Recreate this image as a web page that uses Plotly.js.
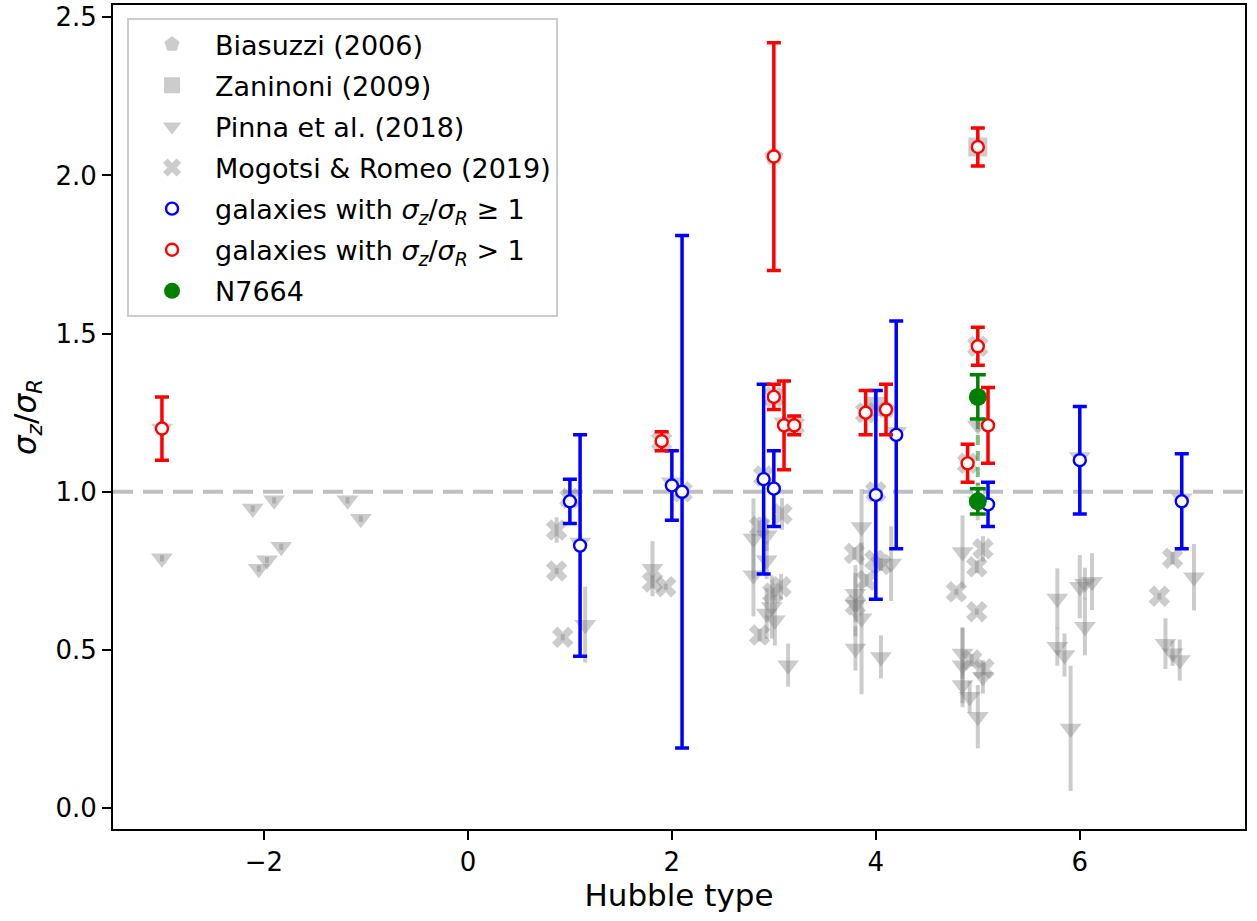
<!DOCTYPE html>
<html>
<head>
<meta charset="utf-8">
<script src="https://cdn.plot.ly/plotly-3.0.1.min.js"></script>
<style>html,body{margin:0;padding:0;background:#fff;}#chart{width:1257px;height:921px;}</style>
</head>
<body>
<div id="chart"></div>
<script>
// ---- Data ----
// Biasuzzi (2006)
const biaX = [3.0, 4.1];
const biaY = [2.06, 1.26];
const biaE = [0.02, 0.02];
// Zaninoni (2009)
const zanX = [5.0, 4.0];
const zanY = [2.09, 1.27];
const zanE = [0.02, 0.05];
// Pinna et al. (2018)
const pinX = [-3, -3, -2.11, -1.90, -1.83, -1.97, -2.05, -1.18, -1.05, 1.1, 1.15, 1.81, 2.0, 2.8, 2.8, 2.93, 2.93, 2.93, 3.01, 2.98, 3.14, 3.1, 3.86, 3.86, 3.80, 3.80, 3.80, 4.15, 4.05, 4.2, 4.85, 4.85, 4.85, 4.85, 5.05, 4.92, 5.0, 5.0, 5.0, 5.78, 5.78, 5.85, 5.91, 6.0, 6.05, 6.12, 6.05, 6.0, 6.84, 6.91, 6.98, 7.12, 7.0];
const pinY = [1.20, 0.79, 0.947, 0.973, 0.826, 0.784, 0.757, 0.973, 0.915, 0.84, 0.58, 0.757, 1.03, 0.852, 0.736, 0.863, 0.784, 0.615, 0.594, 0.636, 0.452, 1.22, 0.889, 0.60, 0.678, 0.643, 0.505, 0.773, 0.478, 1.19, 0.81, 0.489, 0.452, 0.389, 0.415, 0.352, 0.289, 1.21, 0.97, 0.663, 0.51, 0.484, 0.252, 0.70, 0.71, 0.716, 0.573, 1.11, 0.52, 0.49, 0.468, 0.73, 0.98];
const pinE = [0.01, 0.01, 0.01, 0.01, 0.01, 0.01, 0.01, 0.01, 0.01, 0.03, 0.12, 0.087, 0.02, 0.127, 0.13, 0.05, 0.06, 0.08, 0.08, 0.1, 0.068, 0.02, 0.12, 0.24, 0.09, 0.1, 0.07, 0.118, 0.068, 0.02, 0.115, 0.08, 0.12, 0.07, 0.053, 0.05, 0.1, 0.02, 0.06, 0.095, 0.06, 0.068, 0.198, 0.1, 0.05, 0.09, 0.09, 0.02, 0.08, 0.04, 0.065, 0.105, 0.02];
// Mogotsi & Romeo (2019)
const mogX = [0.87, 0.87, 0.93, 1.0, 1.81, 1.94, 1.9, 2.86, 3.08, 3.07, 2.99, 2.86, 2.9, 3.0, 3.2, 3.79, 3.99, 4.05, 3.91, 3.80, 3.9, 4.0, 5.05, 4.99, 4.79, 4.99, 4.94, 5.06, 4.9, 5.0, 6.91, 6.78, 2.1];
const mogY = [0.879, 0.75, 0.54, 0.98, 0.715, 0.70, 1.16, 0.89, 0.93, 0.70, 0.68, 0.547, 1.05, 1.30, 1.21, 0.805, 0.784, 0.77, 0.72, 0.642, 1.25, 1.0, 0.82, 0.763, 0.684, 0.621, 0.468, 0.441, 1.09, 1.46, 0.79, 0.67, 1.0];
const mogE = [0.04, 0.01, 0.01, 0.02, 0.02, 0.01, 0.01, 0.03, 0.05, 0.04, 0.03, 0.02, 0.02, 0.02, 0.02, 0.02, 0.02, 0.02, 0.02, 0.02, 0.02, 0.02, 0.04, 0.02, 0.01, 0.01, 0.02, 0.02, 0.02, 0.02, 0.02, 0.01, 0.02];
// galaxies with sigma_z/sigma_R >= 1 (blue)
const blueX = [1.0, 1.1, 2.0, 2.1, 2.9, 3.0, 4.0, 4.2, 5.1, 6.0, 7.0];
const blueY = [0.97, 0.83, 1.02, 1.00, 1.04, 1.01, 0.99, 1.18, 0.96, 1.10, 0.97];
const blueE = [0.07, 0.35, 0.11, 0.81, 0.30, 0.12, 0.33, 0.36, 0.07, 0.17, 0.15];
// galaxies with sigma_z/sigma_R > 1 (red)
const redX = [-3, 1.9, 3.0, 3.0, 3.1, 3.2, 3.9, 4.1, 5.0, 5.0, 4.9, 5.1];
const redY = [1.20, 1.16, 2.06, 1.30, 1.21, 1.21, 1.25, 1.26, 2.09, 1.46, 1.09, 1.21];
const redE = [0.10, 0.03, 0.36, 0.04, 0.14, 0.03, 0.07, 0.08, 0.06, 0.06, 0.06, 0.12];
// N7664
const grnX = [5.0, 5.0];
const grnY = [1.30, 0.97];
const grnE = [0.07, 0.04];
const grnLinkY = [1.23, 1.02];
// reference line
const refX = [-3.48, 7.62];
const refY = [1, 1];

const FONT = 'DejaVu Sans, sans-serif';
const GRAY = 'rgba(128,128,128,0.4)';
const sig = '<i>σ<sub>z</sub></i>/<i>σ<sub>R</sub></i>';

function grayTrace(name, x, y, e, symbol, size, g) {
  return {
    type: 'scatter', mode: 'markers', name: name, x: x, y: y,
    legendgroup: g,
    marker: {symbol: symbol, size: size, color: GRAY, line: {width: 0}},
    error_y: {type: 'data', array: e, visible: true, color: GRAY, thickness: 4, width: 0}
  };
}
function colTrace(name, x, y, e, color, g) {
  return {
    type: 'scatter', mode: 'markers', name: name, x: x, y: y,
    legendgroup: g,
    marker: {symbol: 'circle', size: 12, color: 'white', line: {width: 2.4, color: color}},
    error_y: {type: 'data', array: e, visible: true, color: color, thickness: 3.5, width: 7}
  };
}

const data = [
  {type: 'scatter', mode: 'lines', x: refX, y: refY, showlegend: false, hoverinfo: 'skip',
   line: {color: 'rgba(128,128,128,0.5)', width: 4, dash: '20px,10px'}},
  grayTrace('Biasuzzi (2006)', biaX, biaY, biaE, 'pentagon', 20, 'a'),
  grayTrace('Zaninoni (2009)', zanX, zanY, zanE, 'square', 19, 'b'),
  grayTrace('Pinna et al. (2018)', pinX, pinY, pinE, 'triangle-down', 19, 'c'),
  grayTrace('Mogotsi &amp; Romeo (2019)', mogX, mogY, mogE, 'x', 19, 'd'),
  colTrace('galaxies with ' + sig + ' ≥ 1', blueX, blueY, blueE, '#0000ff', 'e'),
  colTrace('galaxies with ' + sig + ' > 1', redX, redY, redE, '#ff0000', 'f'),
  {type: 'scatter', mode: 'lines', x: grnX, y: grnLinkY, showlegend: false, hoverinfo: 'skip',
   line: {color: 'rgba(0,128,0,0.5)', width: 4, dash: '10px,6px'}},
  {type: 'scatter', mode: 'markers', name: 'N7664', x: grnX, y: grnY, legendgroup: 'g',
   marker: {symbol: 'circle', size: 18, color: '#008000'},
   error_y: {type: 'data', array: grnE, visible: true, color: '#008000', thickness: 3.5, width: 8}}
];

const axisCommon = {
  showgrid: false, zeroline: false, showline: true, linecolor: 'black', linewidth: 2,
  mirror: true, ticks: 'outside', ticklen: 9, tickwidth: 2, tickcolor: 'black',
  tickfont: {family: FONT, size: 26, color: 'black'}
};

const layout = {
  width: 1257, height: 921,
  margin: {l: 113, r: 12, t: 5, b: 92},
  paper_bgcolor: 'white', plot_bgcolor: 'white',
  font: {family: FONT, color: 'black'},
  showlegend: true,
  xaxis: Object.assign({}, axisCommon, {
    range: [-3.48, 7.62], tickvals: [-2, 0, 2, 4, 6],
    title: {text: 'Hubble type', font: {family: FONT, size: 31}, standoff: 8}
  }),
  yaxis: Object.assign({}, axisCommon, {
    range: [-0.066, 2.539], tickvals: [0, 0.5, 1, 1.5, 2, 2.5], tickformat: '.1f',
    title: {text: sig, font: {family: FONT, size: 31}, standoff: 10}
  }),
  legend: {
    x: 0.0124, y: 0.984, xanchor: 'left', yanchor: 'top',
    bgcolor: 'rgba(255,255,255,0.8)', bordercolor: '#cccccc', borderwidth: 2,
    font: {family: FONT, size: 27, color: 'black'},
    traceorder: 'grouped', tracegroupgap: 3, itemsizing: 'trace', itemwidth: 76
  }
};

Plotly.newPlot('chart', data, layout, {displayModeBar: false, staticPlot: true});
</script>
</body>
</html>
